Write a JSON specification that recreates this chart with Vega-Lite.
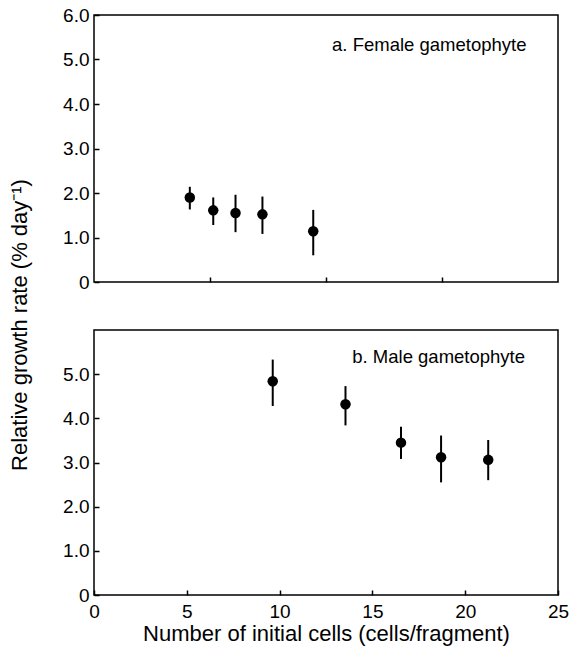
{
  "$schema": "https://vega.github.io/schema/vega-lite/v6.json",
  "background": "white",
  "padding": {"left": 8, "top": 5, "right": 10, "bottom": 10},
  "title": {"text": "Relative growth rate (% day⁻¹)", "orient": "left", "anchor": "middle", "fontSize": 22, "fontWeight": "normal", "font": "Liberation Sans", "color": "black", "offset": 30},
  "datasets": {
    "female": [
      {"cells": 4.13, "rate": 1.90, "lo": 1.63, "hi": 2.14},
      {"cells": 5.14, "rate": 1.61, "lo": 1.28, "hi": 1.90},
      {"cells": 6.10, "rate": 1.55, "lo": 1.12, "hi": 1.96},
      {"cells": 7.26, "rate": 1.52, "lo": 1.08, "hi": 1.92},
      {"cells": 9.45, "rate": 1.14, "lo": 0.60, "hi": 1.62}
    ],
    "male": [
      {"cells": 9.63, "rate": 4.84, "lo": 4.28, "hi": 5.33},
      {"cells": 13.55, "rate": 4.32, "lo": 3.84, "hi": 4.73},
      {"cells": 16.54, "rate": 3.45, "lo": 3.08, "hi": 3.81},
      {"cells": 18.70, "rate": 3.12, "lo": 2.55, "hi": 3.61},
      {"cells": 21.24, "rate": 3.06, "lo": 2.60, "hi": 3.51}
    ],
    "labelA": [{"label": "a. Female gametophyte", "cells": 14.45, "rate": 5.33}],
    "labelB": [{"label": "b. Male gametophyte", "cells": 18.57, "rate": 5.39}]
  },
  "vconcat": [
    {
      "width": 464,
      "height": 267,
      "layer": [
        {
          "data": {"name": "female"},
          "mark": {"type": "rule", "color": "black", "strokeWidth": 2},
          "encoding": {
            "x": {"field": "cells", "type": "quantitative", "scale": {"domain": [0, 20], "nice": false},
                  "axis": {"values": [5, 10, 15], "labels": false, "title": null, "grid": false, "domain": false, "tickSize": -5, "tickColor": "black", "tickWidth": 1.5}},
            "y": {"field": "lo", "type": "quantitative", "scale": {"domain": [0, 6], "nice": false},
                  "axis": {"values": [0, 1, 2, 3, 4, 5, 6], "title": null, "grid": false, "domain": false, "tickSize": -5, "tickColor": "black", "tickWidth": 1.5, "labelPadding": 10,
                           "labelExpr": "datum.value == 0 ? '0' : format(datum.value, '.1f')"}},
            "y2": {"field": "hi"}
          }
        },
        {
          "data": {"name": "female"},
          "mark": {"type": "point", "filled": true, "shape": "circle", "size": 110, "color": "black", "opacity": 1},
          "encoding": {
            "x": {"field": "cells", "type": "quantitative"},
            "y": {"field": "rate", "type": "quantitative"}
          }
        },
        {
          "data": {"name": "labelA"},
          "mark": {"type": "text", "fontSize": 18.5, "fontWeight": "normal", "font": "Liberation Sans", "fill": "black", "align": "center", "baseline": "middle"},
          "encoding": {
            "text": {"field": "label"},
            "x": {"field": "cells", "type": "quantitative"},
            "y": {"field": "rate", "type": "quantitative"}
          }
        }
      ]
    },
    {
      "width": 464,
      "height": 265,
      "layer": [
        {
          "data": {"name": "male"},
          "mark": {"type": "rule", "color": "black", "strokeWidth": 2},
          "encoding": {
            "x": {"field": "cells", "type": "quantitative", "scale": {"domain": [0, 25], "nice": false},
                  "axis": {"values": [0, 5, 10, 15, 20, 25], "title": "Number of initial cells (cells/fragment)", "titleFontSize": 22, "titlePadding": 2, "grid": false, "domain": false, "tickSize": -5, "tickColor": "black", "tickWidth": 1.5, "labelPadding": 12}},
            "y": {"field": "lo", "type": "quantitative", "scale": {"domain": [0, 6], "nice": false},
                  "axis": {"values": [0, 1, 2, 3, 4, 5], "title": null, "grid": false, "domain": false, "tickSize": -5, "tickColor": "black", "tickWidth": 1.5, "labelPadding": 10,
                           "labelExpr": "datum.value == 0 ? '0' : format(datum.value, '.1f')"}},
            "y2": {"field": "hi"}
          }
        },
        {
          "data": {"name": "male"},
          "mark": {"type": "point", "filled": true, "shape": "circle", "size": 110, "color": "black", "opacity": 1},
          "encoding": {
            "x": {"field": "cells", "type": "quantitative"},
            "y": {"field": "rate", "type": "quantitative"}
          }
        },
        {
          "data": {"name": "labelB"},
          "mark": {"type": "text", "fontSize": 18.5, "fontWeight": "normal", "font": "Liberation Sans", "fill": "black", "align": "center", "baseline": "middle"},
          "encoding": {
            "text": {"field": "label"},
            "x": {"field": "cells", "type": "quantitative"},
            "y": {"field": "rate", "type": "quantitative"}
          }
        }
      ]
    }
  ],
  "spacing": 36,
  "config": {
    "font": "Liberation Sans",
    "view": {"stroke": "black", "strokeWidth": 1.5},
    "axis": {"labelFont": "Liberation Sans", "labelFontSize": 19, "labelColor": "black", "titleFont": "Liberation Sans", "titleFontWeight": "normal", "titleColor": "black", "labelFlush": false, "labelOverlap": false}
  }
}
